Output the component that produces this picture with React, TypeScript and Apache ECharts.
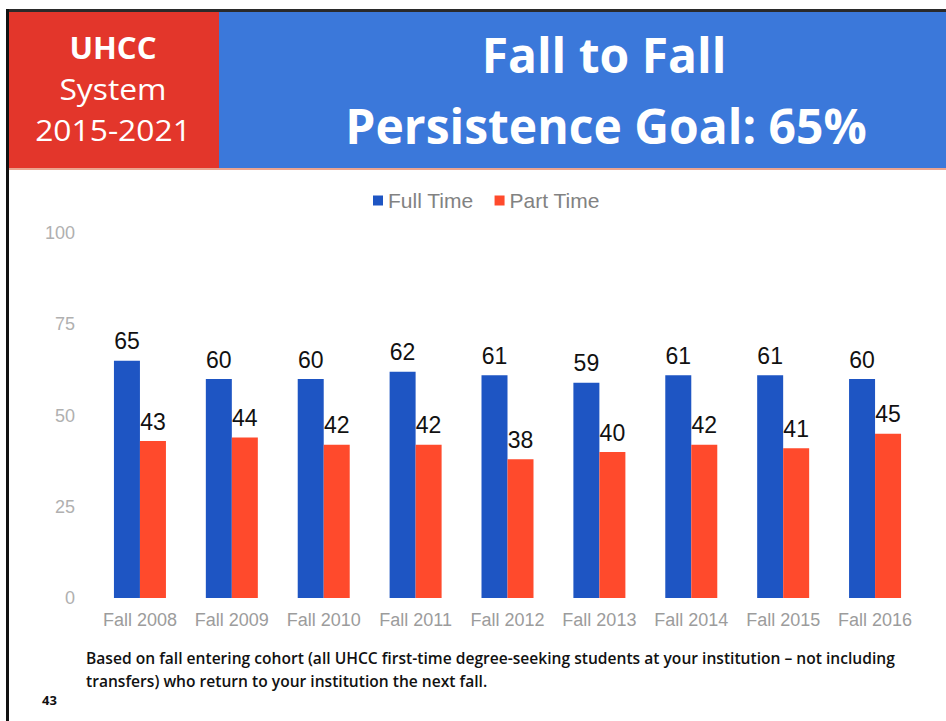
import React, { useEffect, useRef } from "react";
import * as echarts from "echarts";

const categories = ["Fall 2008", "Fall 2009", "Fall 2010", "Fall 2011", "Fall 2012", "Fall 2013", "Fall 2014", "Fall 2015", "Fall 2016"];
const fullTime = [65, 60, 60, 62, 61, 59, 61, 61, 60];
const partTime = [43, 44, 42, 42, 38, 40, 42, 41, 45];
const seriesNames = ["Full Time", "Part Time"];
const sideLines = ["UHCC", "System", "2015-2021"];
const titleLines = ["Fall to Fall", "Persistence Goal: 65%"];
const footnote = [
  "Based on fall entering cohort (all UHCC first-time degree-seeking students at your institution \u2013 not including",
  "transfers) who return to your institution the next fall.",
];
const pageNumber = "43";

export default function App() {
  const ref = useRef<HTMLDivElement>(null);
  useEffect(() => {
    if (!ref.current) return;
    const chart = echarts.init(ref.current, null, { renderer: "svg" });
    const hdrFont = "'Open Sans', 'Noto Sans', sans-serif";
    const arial = "'Liberation Sans', Arial, sans-serif";
    chart.setOption({
      animation: false,
      backgroundColor: "#ffffff",
      legend: {
        top: 185,
        left: 368,
        itemWidth: 10,
        itemHeight: 10,
        itemGap: 21,
        icon: "rect",
        textStyle: { color: "#828282", fontSize: 21, fontFamily: arial },
        data: seriesNames,
      },
      grid: { left: 94, right: 25, top: 233, bottom: 123, containLabel: false },
      xAxis: {
        type: "category",
        data: categories,
        axisLine: { show: false },
        axisTick: { show: false },
        axisLabel: { interval: 0, color: "#9c9c9c", fontSize: 18, margin: 13, fontFamily: arial },
      },
      yAxis: {
        type: "value",
        min: 0,
        max: 100,
        interval: 25,
        axisLine: { show: false },
        axisTick: { show: false },
        splitLine: { show: false },
        axisLabel: { color: "#b0b0b0", fontSize: 18, margin: 19, fontFamily: arial },
      },
      series: [
        {
          name: seriesNames[0],
          type: "bar",
          data: fullTime,
          barWidth: 26,
          barGap: "0%",
          itemStyle: { color: "#1e55c3" },
          label: { show: true, position: "top", distance: 8, color: "#111", fontSize: 23, fontFamily: arial },
        },
        {
          name: seriesNames[1],
          type: "bar",
          data: partTime,
          barWidth: 26,
          itemStyle: { color: "#ff4a2c" },
          label: { show: true, position: "top", distance: 8, color: "#111", fontSize: 23, fontFamily: arial },
        },
      ],
      graphic: [
        { type: "rect", shape: { x: 6, y: 9, width: 940, height: 3 }, style: { fill: "#2a2a2a" }, z: 10 },
        { type: "rect", shape: { x: 6, y: 9, width: 3, height: 712 }, style: { fill: "#111" }, z: 10 },
        { type: "rect", shape: { x: 9, y: 12, width: 210, height: 156 }, style: { fill: "#e3362b" } },
        { type: "rect", shape: { x: 219, y: 12, width: 727, height: 156 }, style: { fill: "#3b78da" } },
        { type: "rect", shape: { x: 9, y: 168, width: 937, height: 2 }, style: { fill: "#eba48f" } },
        { type: "text", x: 113, y: 47, scaleX: 1.04, style: { text: sideLines[0], fill: "#fff", font: `bold 30px ${hdrFont}`, align: "center", verticalAlign: "middle" } },
        { type: "text", x: 113, y: 88, scaleX: 1.06, style: { text: sideLines[1], fill: "#fff", font: `30px ${hdrFont}`, align: "center", verticalAlign: "middle" } },
        { type: "text", x: 113, y: 129, scaleX: 1.06, style: { text: sideLines[2], fill: "#fff", font: `30px ${hdrFont}`, align: "center", verticalAlign: "middle" } },
        { type: "text", x: 604, y: 54, style: { text: titleLines[0], fill: "#fff", font: `bold 48px ${hdrFont}`, align: "center", verticalAlign: "middle" } },
        { type: "text", x: 606, y: 125, style: { text: titleLines[1], fill: "#fff", font: `bold 48px ${hdrFont}`, align: "center", verticalAlign: "middle" } },
        { type: "text", x: 86, y: 658, style: { text: footnote[0], fill: "#111", font: `600 15.6px ${hdrFont}`, verticalAlign: "middle" } },
        { type: "text", x: 86, y: 681, style: { text: footnote[1], fill: "#111", font: `600 15.6px ${hdrFont}`, verticalAlign: "middle" } },
        { type: "text", x: 42, y: 700, style: { text: pageNumber, fill: "#111", font: `bold 13px ${hdrFont}`, verticalAlign: "middle" } },
      ],
    });
    return () => chart.dispose();
  }, []);
  return <div ref={ref} style={{ position: "fixed", left: 0, top: 0, width: 946, height: 721 }} />;
}
